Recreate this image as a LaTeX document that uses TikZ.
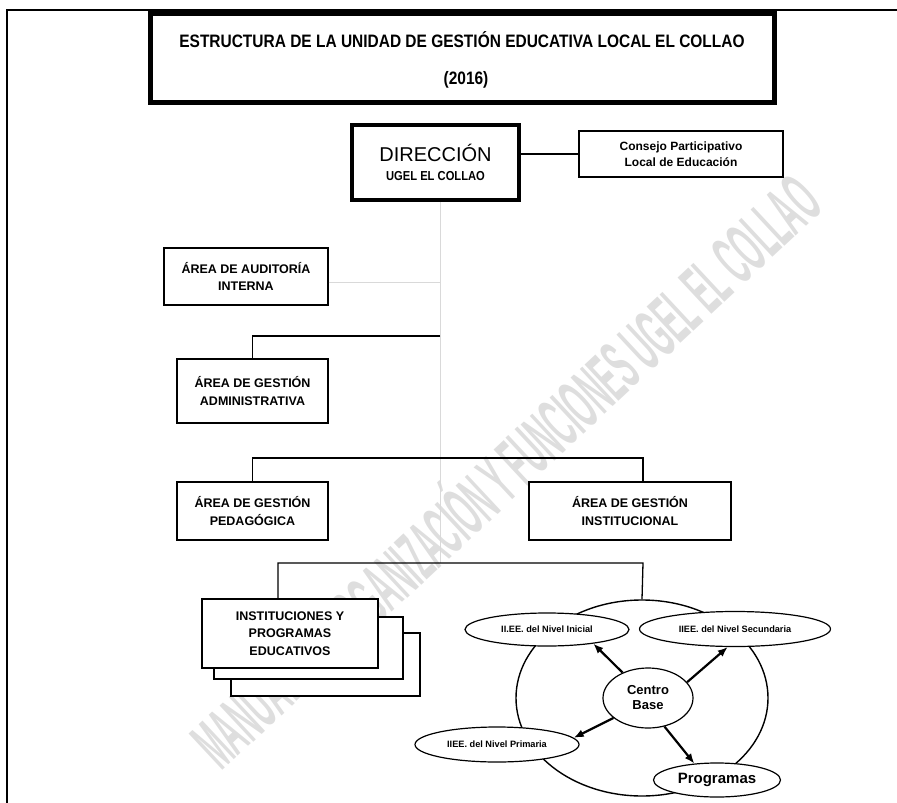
\documentclass[tikz,border=0pt]{standalone}
\usepackage{graphicx}
\usepackage{fontspec}
\setmainfont{Liberation Sans}
\newfontfamily\narrow[FakeStretch=0.86]{Liberation Sans}
\usetikzlibrary{arrows.meta,shapes.geometric}
\tikzset{
  area/.style={draw, line width=1.3pt, align=center, inner sep=0pt,
    font=\bfseries\fontsize{12.5}{17.5}\selectfont},
  nivel/.style={draw, ellipse, fill=white, line width=1.2pt, inner sep=0pt,
    font=\bfseries\fontsize{9.2}{11}\selectfont},
  flecha/.style={line width=2.2pt, -{Latex[length=10pt,width=8pt]}},
  tenue/.style={draw=black!15, line width=1pt},
  rama/.style={line width=1.3pt},
}
\begin{document}
\begin{tikzpicture}[x=1pt,y=-1pt]
\useasboundingbox (0,0) rectangle (897,803);
% marco de la hoja
\draw[line width=2pt] (7,803) -- (7,10) -- (897,10);
% marca de agua
\node[rotate=43, text=black!13, font=\narrow\bfseries\fontsize{72}{72}\selectfont]
  (marca) at (502,467) {\scalebox{0.44}[1]{MANUAL DE ORGANIZACIÓN Y FUNCIONES UGEL EL COLLAO}};
% titulo
\node[draw, line width=5pt, minimum width=624pt, minimum height=89pt] (titulo) at (462,57.5) {};
\node[font=\narrow\bfseries\fontsize{18}{18}\selectfont] (tit1) at (462,40)
  {ESTRUCTURA DE LA UNIDAD DE GESTIÓN EDUCATIVA LOCAL EL COLLAO};
\node[font=\narrow\bfseries\fontsize{18}{18}\selectfont] (tit2) at (466,80) {(2016)};
% direccion y consejo
\node[draw, line width=4pt, minimum width=167pt, minimum height=75pt, align=center,
  font=\fontsize{20}{20}\selectfont] (direccion) at (435.5,162.5)
  {DIRECCIÓN\\[-1pt]{\narrow\bfseries\fontsize{13}{14}\selectfont UGEL EL COLLAO}};
\node[area, minimum width=204pt, minimum height=46pt,
  font=\bfseries\fontsize{12}{16.5}\selectfont] (consejo) at (681,154)
  {Consejo Participativo\\Local de Educación};
\draw[rama] (consejo.west) -- (consejo.west -| direccion.east);
% areas
\node[area, minimum width=164pt, minimum height=57pt] (auditoria) at (246,276.5) {ÁREA DE AUDITORÍA\\INTERNA};
\node[area, minimum width=151pt, minimum height=64pt] (administrativa) at (252.5,391) {ÁREA DE GESTIÓN\\ADMINISTRATIVA};
\node[area, minimum width=151pt, minimum height=58pt] (pedagogica) at (252.5,511) {ÁREA DE GESTIÓN\\PEDAGÓGICA};
\node[area, minimum width=202pt, minimum height=58pt] (institucional) at (630,511) {ÁREA DE GESTIÓN\\INSTITUCIONAL};
% instituciones (tres hojas)
\node[area, fill=white, minimum width=189pt, minimum height=63pt] (inst3) at (325.5,664.5) {};
\node[area, fill=white, minimum width=189pt, minimum height=62pt] (inst2) at (308.5,648) {};
\node[area, fill=white, minimum width=176pt, minimum height=69pt] (instituciones) at (290,633.5)
  {INSTITUCIONES Y\\PROGRAMAS\\EDUCATIVOS};
% anillo de niveles
\node[draw, ellipse, line width=1.4pt, minimum width=252pt, minimum height=196pt] (anillo) at (642,698) {};
\node[nivel, minimum width=164pt, minimum height=33pt] (inicial) at (547,629.5) {II.EE. del Nivel Inicial};
\node[nivel, minimum width=191pt, minimum height=35pt] (secundaria) at (735,629) {IIEE. del Nivel Secundaria};
\node[nivel, minimum width=164pt, minimum height=35pt] (primaria) at (497,744.5) {IIEE. del Nivel Primaria};
\node[nivel, minimum width=127pt, minimum height=34pt,
  font=\bfseries\fontsize{15}{15}\selectfont] (programas) at (717,780) {Programas};
\node[nivel, minimum width=90pt, minimum height=60pt, align=center,
  font=\bfseries\fontsize{13}{15}\selectfont] (centro) at (648,698) {Centro\\Base};
\draw[flecha] (centro.135) -- (inicial.-17);
\draw[flecha] (centro.22) -- (secundaria.-112);
\draw[flecha] (centro.-150) -- (primaria.5);
\draw[flecha] (centro.-60) -- (programas.144);
% lineas de mando
\coordinate (lomo) at (440,563);
\coordinate (rA) at (440,336);
\coordinate (rB) at (643,458);
\coordinate (rC) at (643,563);
\draw[tenue] (lomo |- direccion.south) -- (lomo);
\draw[tenue] ([yshift=-5.5pt]auditoria.east) -- ([yshift=-5.5pt]auditoria.east -| lomo);
\draw[rama] (rA) -| (administrativa.north);
\draw[rama] (pedagogica.north) |- (rB) -- (rB |- institucional.north);
\draw[rama] ([xshift=-12pt]instituciones.north) |- (rC) -- (anillo.north);
\end{tikzpicture}
\end{document}
